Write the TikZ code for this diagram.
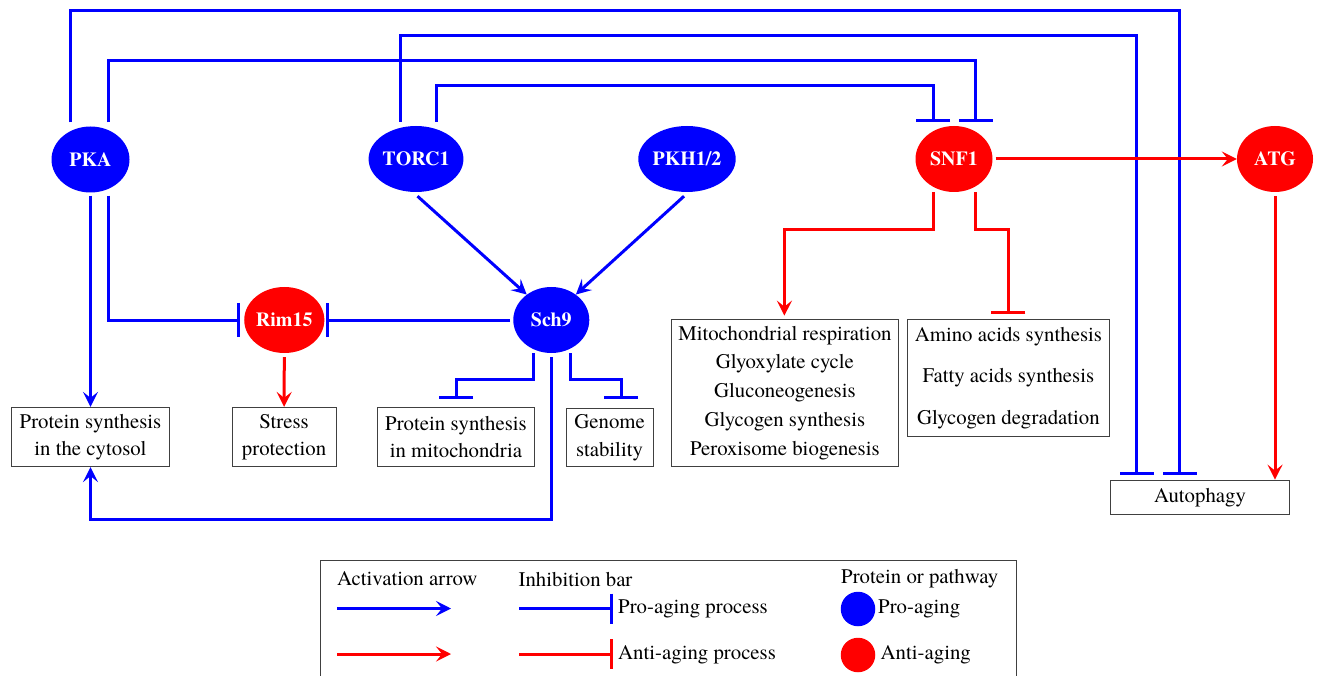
\documentclass[tikz,border=0pt]{standalone}
\usepackage{fontspec}
\setmainfont{texgyretermes}[Extension=.otf,UprightFont=*-regular,BoldFont=*-bold,ItalicFont=*-italic,BoldItalicFont=*-bolditalic]
\usetikzlibrary{arrows.meta,shapes.geometric}
\definecolor{pblue}{RGB}{0,0,255}
\definecolor{pred}{RGB}{255,0,0}
\definecolor{bordergray}{RGB}{64,64,64}
\begin{document}
\begin{tikzpicture}[x=1pt,y=-1pt,
  prot/.style={ellipse,inner sep=0pt,minimum height=66pt,text=white,font=\fontsize{20}{24}\selectfont\bfseries},
  pro/.style={prot,fill=pblue},
  anti/.style={prot,fill=pred},
  box/.style={draw=bordergray,line width=0.8pt,inner sep=0pt,align=center},
  bl/.style={draw=pblue,line width=3pt},
  rl/.style={draw=pred,line width=3pt},
  act/.style={-{Stealth[length=15pt,width=15pt,inset=6pt]}},
  inh/.style={-{Bar[width=34pt]}},
  lginh/.style={-{Bar[width=30pt]}},
  lgtext/.style={anchor=west,inner sep=0pt,font=\fontsize{20.8}{24}\selectfont}
]
\useasboundingbox (0,0) rectangle (1317,676);

% proteins
\node[pro,minimum width=78pt] (PKA) at (90.5,159.5) {PKA};
\node[pro,minimum width=88pt] (TORC1) at (416,159) {TORC1};
\node[pro,minimum width=88pt] (PKH) at (687,159) {PKH1/2};
\node[anti,minimum width=77pt] (SNF1) at (954,159) {SNF1};
\node[anti,minimum width=76pt] (ATG) at (1275,159) {ATG};
\node[anti,minimum width=78pt] (Rim15) at (284.3,320) {Rim15};
\node[pro,minimum width=76pt] (Sch9) at (551.3,320) {Sch9};

% process boxes
\node[box,minimum width=157.4pt,minimum height=59.4pt,font=\fontsize{20.8}{27.5}\selectfont] (cyt) at (90.5,437) {Protein synthesis\\in the cytosol};
\node[box,minimum width=103.6pt,minimum height=59.4pt,font=\fontsize{20.8}{27.5}\selectfont] (stress) at (284.1,437) {Stress\\protection};
\node[box,minimum width=157pt,minimum height=59.4pt,font=\fontsize{20.8}{27.5}\selectfont] (mito) at (456,437) {Protein synthesis\\in mitochondria};
\node[box,minimum width=87.2pt,minimum height=58.4pt,font=\fontsize{20.8}{27.5}\selectfont] (genome) at (609.6,437.5) {Genome\\stability};
\node[box,minimum width=227.1pt,minimum height=147.7pt,font=\fontsize{20.8}{28.75}\selectfont] (resp) at (784.9,392.9) {Mitochondrial respiration\\Glyoxylate cycle\\Gluconeogenesis\\Glycogen synthesis\\Peroxisome biogenesis};
\node[box,minimum width=202.3pt,minimum height=117.7pt,font=\fontsize{20.8}{41.5}\selectfont] (amino) at (1008.4,377.9) {Amino acids synthesis\\Fatty acids synthesis\\Glycogen degradation};
\node[box,minimum width=179.3pt,minimum height=34.3pt,font=\fontsize{20.8}{24}\selectfont] (auto) at (1200,497.2) {Autophagy};

% long inhibition lines across the top
\draw[bl,inh] ([xshift=-19.8pt,yshift=4pt]PKA.north) |- (1179.5,10.7) -- ([xshift=-20.5pt,yshift=5pt]auto.north);
\draw[bl,inh] ([xshift=18pt,yshift=4pt]PKA.north) |- (975.5,60.7) -- ([xshift=21.5pt,yshift=3.5pt]SNF1.north);
\draw[bl,inh] ([xshift=-15.7pt,yshift=4pt]TORC1.north) |- (1136.6,36) -- ([xshift=-63.4pt,yshift=5pt]auto.north);
\draw[bl,inh] ([xshift=20.4pt,yshift=4pt]TORC1.north) |- (933,86) -- ([xshift=-21pt,yshift=3.5pt]SNF1.north);

% PKA
\draw[bl,act] ([yshift=-3pt]PKA.south) -- (cyt.north);
\draw[bl,inh] ([xshift=18pt,yshift=-3pt]PKA.south) |- ([xshift=-4pt]Rim15.west);

% Sch9
\draw[bl,inh] ([xshift=-3pt]Sch9.west) -- ([xshift=1.7pt]Rim15.east);
\draw[bl,act] ([xshift=1.5pt,yshift=-4pt]TORC1.south) -- (Sch9.134);
\draw[bl,act] ([xshift=-3pt,yshift=-4pt]PKH.south) -- (Sch9.46);
\draw[bl,inh] ([xshift=-17.6pt]Sch9.south) -- ++(0,26) -| ([yshift=8pt]mito.north);
\draw[bl,inh] ([xshift=19pt]Sch9.south) -- ++(0,26) -| ([xshift=11.4pt,yshift=9pt]genome.north);
\draw[bl,act] ([yshift=-4pt]Sch9.south) -- ++(0,162.3) -| (cyt.south);

% Rim15
\draw[rl,act] ([yshift=-4pt]Rim15.south) -- (stress.north);

% SNF1
\draw[rl,act] ([xshift=3pt]SNF1.east) -- (ATG.west);
\draw[rl,act] ([xshift=-21pt]SNF1.south) -- ++(0,37.5) -| ([xshift=-0.5pt,yshift=3pt]resp.north);
\draw[rl,inh] ([xshift=21pt]SNF1.south) -- ++(0,37.5) -| ([yshift=5pt]amino.north);

% ATG
\draw[rl,act] ([yshift=-4pt]ATG.south) -- (ATG.south |- auto.north);

% legend
\draw[draw=bordergray,line width=0.8pt] (320.7,690) -- (320.7,560) -- (1016,560) -- (1016,690);
\node[lgtext] (lgact) at (337,579) {Activation arrow};
\node[lgtext] (lginhb) at (518.4,579) {Inhibition bar};
\node[lgtext] (lgprot) at (841,579) {Protein or pathway};
\coordinate (la1) at (337,608.5);
\coordinate (la2) at (451,608.5);
\coordinate (lb1) at (337,654);
\coordinate (lb2) at (451,654);
\coordinate (li1) at (519.3,608.5);
\coordinate (li2) at (612.5,608.5);
\coordinate (lj1) at (519.3,654);
\coordinate (lj2) at (612.5,654);
\draw[bl,act] (la1) -- (la2);
\draw[rl,act] (lb1) -- (lb2);
\draw[bl,lginh] (li1) -- (li2);
\draw[rl,lginh] (lj1) -- (lj2);
\node[lgtext] (lgproproc) at (618,609) {Pro-aging process};
\node[lgtext] (lgantiproc) at (618,655) {Anti-aging process};
\node[circle,fill=pblue,minimum size=34.5pt,inner sep=0pt] (lgpro) at (858,609) {};
\node[circle,fill=pred,minimum size=34.5pt,inner sep=0pt] (lganti) at (858,655) {};
\node[lgtext] (lgprotxt) at (878,609) {Pro-aging};
\node[lgtext] (lgantitxt) at (880.5,655) {Anti-aging};
\end{tikzpicture}
\end{document}
